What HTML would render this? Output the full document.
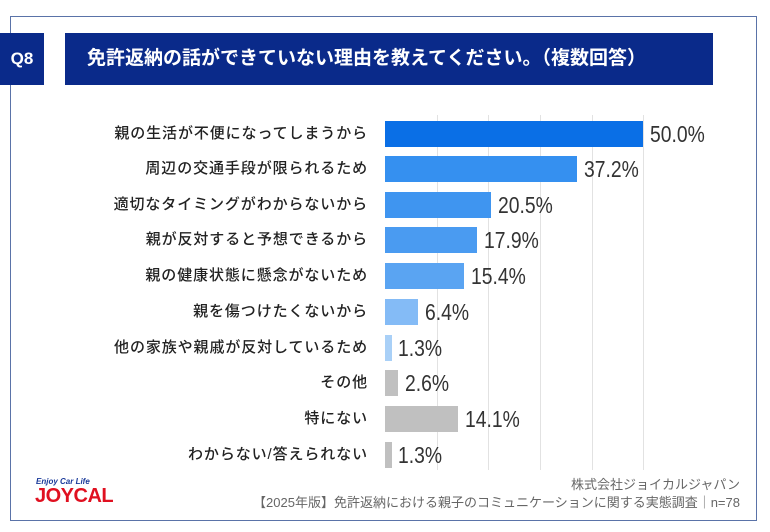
<!DOCTYPE html>
<html><head><meta charset="utf-8"><style>
body{margin:0;width:770px;height:532px;background:#fff;position:relative;overflow:hidden;font-family:"Liberation Sans","Noto Sans CJK JP",sans-serif;}
.frame{position:absolute;left:10px;top:16px;width:745px;height:503px;border:1.5px solid #5a73a8;}
.q{position:absolute;left:0;top:33px;width:44px;height:52px;background:#0a2a8a;color:#fff;font-weight:bold;font-size:17px;line-height:52px;text-align:center;}
.t{position:absolute;left:65px;top:33px;width:648px;height:52px;background:#0a2a8a;color:#fff;font-weight:bold;font-size:19px;line-height:52px;padding-left:22px;box-sizing:border-box;}
.g{position:absolute;top:115px;height:355px;width:1px;background:#e2e2e2;}
.lab{position:absolute;right:402px;font-size:15px;letter-spacing:0.9px;color:#222;font-weight:500;white-space:nowrap;line-height:26px;}
.bar{position:absolute;left:385px;height:26px;}
.v{position:absolute;font-size:23px;color:#333;line-height:26px;transform:scaleX(0.84);transform-origin:left center;}
.foot{position:absolute;right:30px;font-size:13px;color:#666;text-align:right;}
</style></head><body>
<div class="frame"></div>
<div class="q">Q8</div>
<div class="t">免許返納の話ができていない理由を教えてください。（複数回答）</div>
<div class="g" style="left:437px"></div><div class="g" style="left:488px"></div><div class="g" style="left:540px"></div><div class="g" style="left:592px"></div><div class="g" style="left:643px"></div>

<div class="lab" style="top:121px">親の生活が不便になってしまうから</div>
<div class="bar" style="top:121px;width:258px;background:#0a6fe6"></div><div class="v" style="top:121px;left:650px">50.0%</div>

<div class="lab" style="top:156px">周辺の交通手段が限られるため</div>
<div class="bar" style="top:156px;width:192px;background:#3590f0"></div><div class="v" style="top:156px;left:584px">37.2%</div>

<div class="lab" style="top:192px">適切なタイミングがわからないから</div>
<div class="bar" style="top:192px;width:106px;background:#3f95f0"></div><div class="v" style="top:192px;left:498px">20.5%</div>

<div class="lab" style="top:227px">親が反対すると予想できるから</div>
<div class="bar" style="top:227px;width:92px;background:#4a9bf1"></div><div class="v" style="top:227px;left:484px">17.9%</div>

<div class="lab" style="top:263px">親の健康状態に懸念がないため</div>
<div class="bar" style="top:263px;width:79px;background:#5aa4f2"></div><div class="v" style="top:263px;left:471px">15.4%</div>

<div class="lab" style="top:299px">親を傷つけたくないから</div>
<div class="bar" style="top:299px;width:33px;background:#84bbf6"></div><div class="v" style="top:299px;left:425px">6.4%</div>

<div class="lab" style="top:335px">他の家族や親戚が反対しているため</div>
<div class="bar" style="top:335px;width:7px;background:#a9d0f7"></div><div class="v" style="top:335px;left:398px">1.3%</div>

<div class="lab" style="top:370px">その他</div>
<div class="bar" style="top:370px;width:13px;background:#c0c0c0"></div><div class="v" style="top:370px;left:405px">2.6%</div>

<div class="lab" style="top:406px">特にない</div>
<div class="bar" style="top:406px;width:73px;background:#c0c0c0"></div><div class="v" style="top:406px;left:465px">14.1%</div>

<div class="lab" style="top:442px">わからない/答えられない</div>
<div class="bar" style="top:442px;width:7px;background:#c0c0c0"></div><div class="v" style="top:442px;left:398px">1.3%</div>

<div style="position:absolute;left:36px;top:477px;font-size:8px;font-weight:bold;color:#1a3a9a;font-style:italic">Enjoy Car Life</div>
<div style="position:absolute;left:35px;top:486px;font-size:20px;font-weight:900;color:#e01020;letter-spacing:-0.5px;line-height:20px">JOYCAL</div>
<div class="foot" style="top:474px">株式会社ジョイカルジャパン</div>
<div class="foot" style="top:492px">【2025年版】免許返納における親子のコミュニケーションに関する実態調査｜n=78</div>
</body></html>
